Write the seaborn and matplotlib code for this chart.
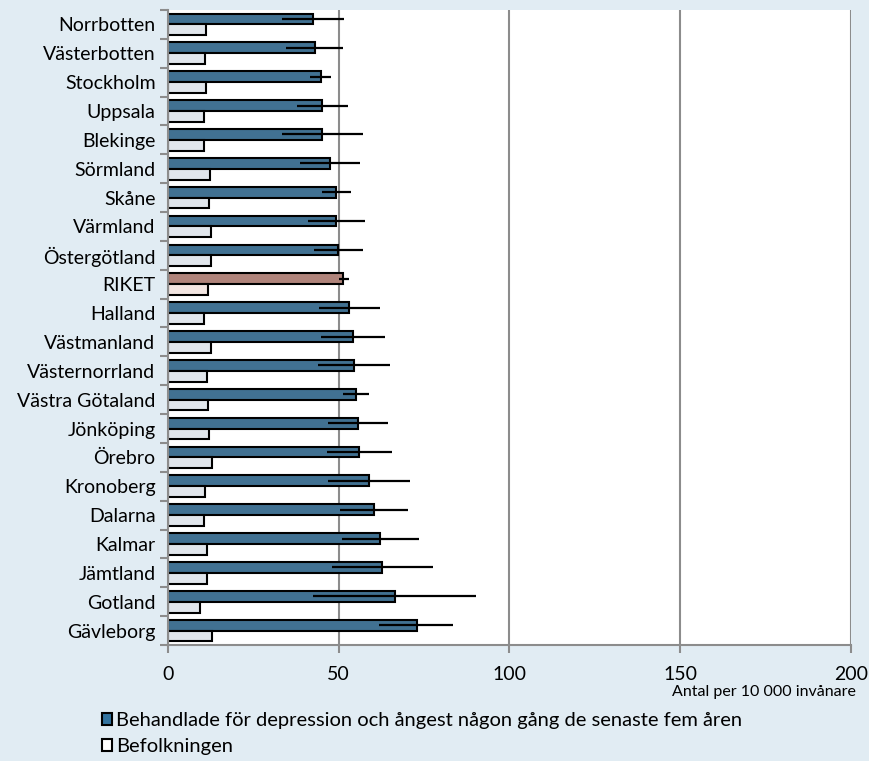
import numpy as np
import pandas as pd
import matplotlib
matplotlib.use("Agg")
import matplotlib.pyplot as plt
from matplotlib.patches import Patch
import seaborn as sns

# ==============================
# DATA
# ==============================

regions = [
    "Norrbotten", "Västerbotten", "Stockholm", "Uppsala", "Blekinge",
    "Sörmland", "Skåne", "Värmland", "Östergötland", "RIKET", "Halland",
    "Västmanland", "Västernorrland", "Västra Götaland", "Jönköping",
    "Örebro", "Kronoberg", "Dalarna", "Kalmar", "Jämtland", "Gotland",
    "Gävleborg",
]
treated = [42.4, 43.0, 44.7, 45.2, 45.2, 47.4, 49.2, 49.2, 49.9, 51.3, 53.1,
           54.3, 54.5, 55.1, 55.6, 56.0, 58.9, 60.4, 62.1, 62.8, 66.6, 72.8]
ci_low = [33.3, 34.6, 41.6, 37.7, 33.3, 38.7, 45.2, 40.9, 42.8, 50.1, 44.3,
          44.7, 43.8, 51.3, 46.9, 46.5, 46.8, 50.5, 50.9, 48.1, 42.5, 61.9]
ci_high = [51.5, 51.4, 47.8, 52.6, 57.2, 56.2, 53.5, 57.8, 57.2, 52.9, 62.0,
           63.7, 65.1, 58.8, 64.3, 65.6, 71.0, 70.2, 73.4, 77.5, 90.2, 83.5]
population = [11.1, 10.8, 11.1, 10.5, 10.4, 12.3, 12.1, 12.6, 12.6, 11.6, 10.5,
              12.6, 11.3, 11.8, 12.1, 12.9, 10.8, 10.5, 11.5, 11.3, 9.4, 12.8]

series_names = [
    "Behandlade för depression och ångest någon gång de senaste fem åren",
    "Befolkningen",
]

BG = "#e1ecf3"
BLUE = "#33739f"
LIGHT = "#dfe6ee"
RIKET_DARK = "#b0847b"
RIKET_LIGHT = "#f3e6e2"
GRID = "#8c8c8c"

df = pd.DataFrame({
    "Region": regions * 2,
    "Serie": [series_names[0]] * len(regions) + [series_names[1]] * len(regions),
    "Value": treated + population,
})

# ==============================
# PLOT
# ==============================

plt.rcParams["font.family"] = ["Lato", "DejaVu Sans"]

fig = plt.figure(figsize=(8.7, 7.61), dpi=100, facecolor=BG)
ax = fig.add_axes([0.1931, 0.1524, 0.978 - 0.1931, 0.9869 - 0.1524])
ax.set_facecolor("white")

sns.barplot(
    data=df, x="Value", y="Region", hue="Serie", order=regions,
    hue_order=series_names, palette=[BLUE, LIGHT], orient="h",
    width=0.75, edgecolor="black", linewidth=1.5, errorbar=None,
    legend=False, ax=ax,
)

# RIKET in its own colours
ri = regions.index("RIKET")
ax.containers[0][ri].set_facecolor(RIKET_DARK)
ax.containers[1][ri].set_facecolor(RIKET_LIGHT)

# confidence intervals on the treated bars
ys = [p.get_y() + p.get_height() / 2 for p in ax.containers[0]]
lo = np.array(treated) - np.array(ci_low)
hi = np.array(ci_high) - np.array(treated)
ax.errorbar(treated, ys, xerr=[lo, hi], fmt="none", ecolor="black",
            elinewidth=1.6, capsize=0, zorder=5)

ax.set_xlim(0, 200)
ax.set_ylim(len(regions) - 0.5, -0.5)
ax.set_xticks([0, 50, 100, 150, 200])
ax.set_yticks(np.arange(-0.5, len(regions), 1), minor=True)
ax.tick_params(axis="y", which="major", length=0, labelsize=14, pad=9)
ax.tick_params(axis="y", which="minor", length=6, width=1.5, color=GRID)
ax.tick_params(axis="x", length=6, width=1.5, color=GRID, labelsize=14, pad=9)
ax.xaxis.grid(True, color=GRID, linewidth=1.5)
ax.set_axisbelow(True)
ax.set_xlabel("")
ax.set_ylabel("")

for side in ["top", "right"]:
    ax.spines[side].set_visible(False)
for side in ["left", "bottom"]:
    ax.spines[side].set_color(GRID)
    ax.spines[side].set_linewidth(1.5)

fig.text(0.984, 0.091, "Antal per 10 000 invånare", ha="right",
         va="center", fontsize=11.5)

handles = [Patch(facecolor=BLUE, edgecolor="black", linewidth=1.5),
           Patch(facecolor="white", edgecolor="black", linewidth=1.5)]
fig.legend(handles, series_names, loc="upper left",
           bbox_to_anchor=(0.117, 0.064), frameon=False, fontsize=14.5,
           handlelength=0.5, handleheight=0.5, handletextpad=0.2,
           labelspacing=0.45, borderaxespad=0, borderpad=0)

fig.savefig("out.png", dpi=100, facecolor=BG)
